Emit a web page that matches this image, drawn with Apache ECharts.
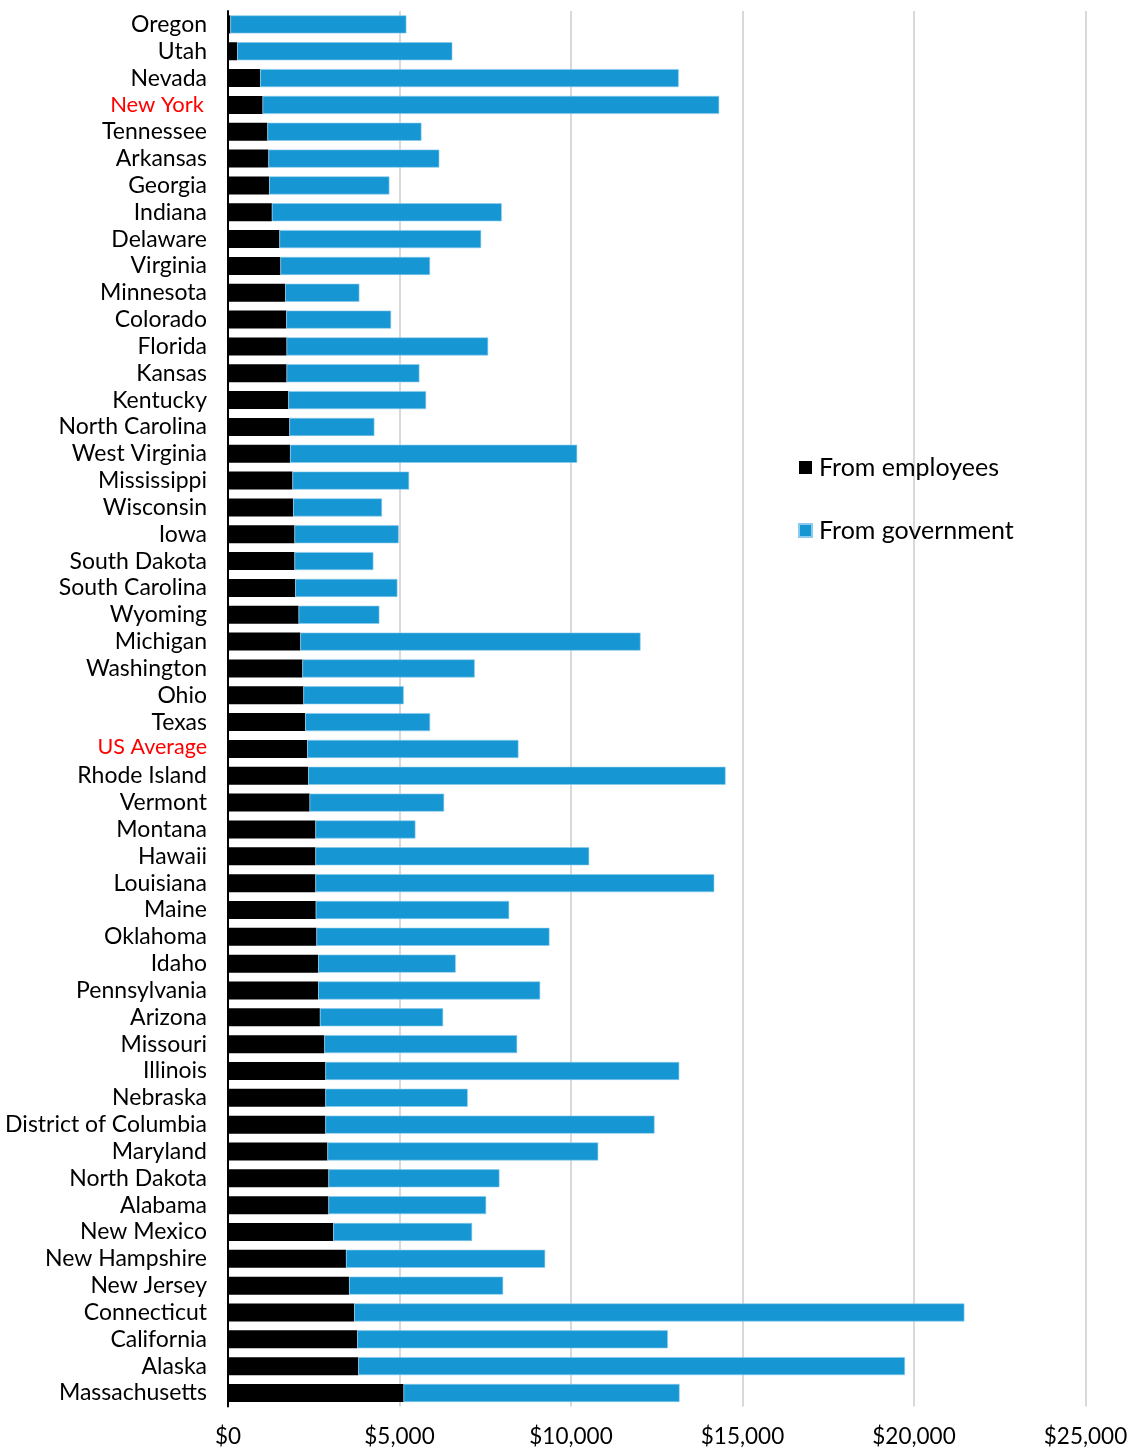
<!DOCTYPE html>
<html>
<head>
<meta charset="utf-8">
<script src="https://cdn.jsdelivr.net/npm/echarts@6/dist/echarts.min.js"></script>
<style>
html,body{margin:0;padding:0;background:#fff;}
#chart{width:1133px;height:1449px;}
</style>
</head>
<body>
<div id="chart"></div>
<script>
const states = ["Oregon","Utah","Nevada","New York","Tennessee","Arkansas","Georgia","Indiana","Delaware","Virginia","Minnesota","Colorado","Florida","Kansas","Kentucky","North Carolina","West Virginia","Mississippi","Wisconsin","Iowa","South Dakota","South Carolina","Wyoming","Michigan","Washington","Ohio","Texas","US Average","Rhode Island","Vermont","Montana","Hawaii","Louisiana","Maine","Oklahoma","Idaho","Pennsylvania","Arizona","Missouri","Illinois","Nebraska","District of Columbia","Maryland","North Dakota","Alabama","New Mexico","New Hampshire","New Jersey","Connecticut","California","Alaska","Massachusetts"];

const fromEmployees = [70,270,940,1010,1150,1180,1200,1280,1500,1530,1670,1700,1710,1710,1760,1790,1810,1880,1900,1940,1940,1960,2060,2110,2170,2200,2250,2310,2340,2380,2550,2550,2550,2560,2580,2630,2630,2680,2810,2840,2840,2840,2900,2930,2930,3070,3440,3530,3680,3770,3800,5120];

const fromGovernment = [5130,6270,12200,13310,4490,4980,3505,6700,5880,4360,2160,3055,5874,3870,4016,2478,8370,3400,2590,3036,2298,2979,2353,9917,5023,2922,3642,6158,12166,3921,2914,7980,11627,5637,6792,4009,6471,3592,5620,10316,4149,9595,7893,4984,4596,4047,5807,4492,17789,9053,15937,8045];

const highlighted = ["New York","US Average"];
const seriesNames = ["From employees","From government"];

const chart = echarts.init(document.getElementById('chart'));
chart.setOption({
  animation:false,
  textStyle:{fontFamily:'Lato'},
  grid:{left:228,right:47.5,top:11,bottom:42.6,containLabel:false},
  legend:{
    orient:'vertical',left:793,top:450,
    icon:'rect',itemWidth:13,itemHeight:13,itemGap:38,
    textStyle:{fontFamily:'Lato',fontSize:25,color:'#000',padding:[0,0,0,2]},
    data:seriesNames
  },
  xAxis:{
    type:'value',min:0,max:25000,interval:5000,
    axisLine:{show:false},axisTick:{show:false},
    splitLine:{lineStyle:{color:'#d9d9d9',width:2}},
    axisLabel:{fontFamily:'Lato',fontSize:22.5,color:'#000',margin:19,
      formatter:v=>'$'+v.toLocaleString('en-US')}
  },
  yAxis:{
    type:'category',inverse:true,data:states,
    axisLine:{lineStyle:{color:'#000',width:2}},
    axisTick:{show:false},
    axisLabel:{interval:0,fontFamily:'Lato',fontSize:23,color:'#000',margin:21,
      formatter:v=>v==='New York'?'{r|'+v+'}':(v==='US Average'?'{u|'+v+'}':v),
      rich:{
        r:{fontFamily:'Lato',fontSize:22,color:'#ff0000',padding:[0,3,0,0]},
        u:{fontFamily:'Lato',fontSize:21.5,color:'#ff0000',padding:[0,0,4,0]}
      }}
  },
  series:[
    {name:seriesNames[0],type:'bar',stack:'t',data:fromEmployees,barWidth:18,
      itemStyle:{color:'#000000'}},
    {name:seriesNames[1],type:'bar',stack:'t',data:fromGovernment,barWidth:18,
      itemStyle:{color:'#1696d2',borderColor:'#8ccbee',borderWidth:0.6}}
  ]
});
</script>
</body>
</html>
